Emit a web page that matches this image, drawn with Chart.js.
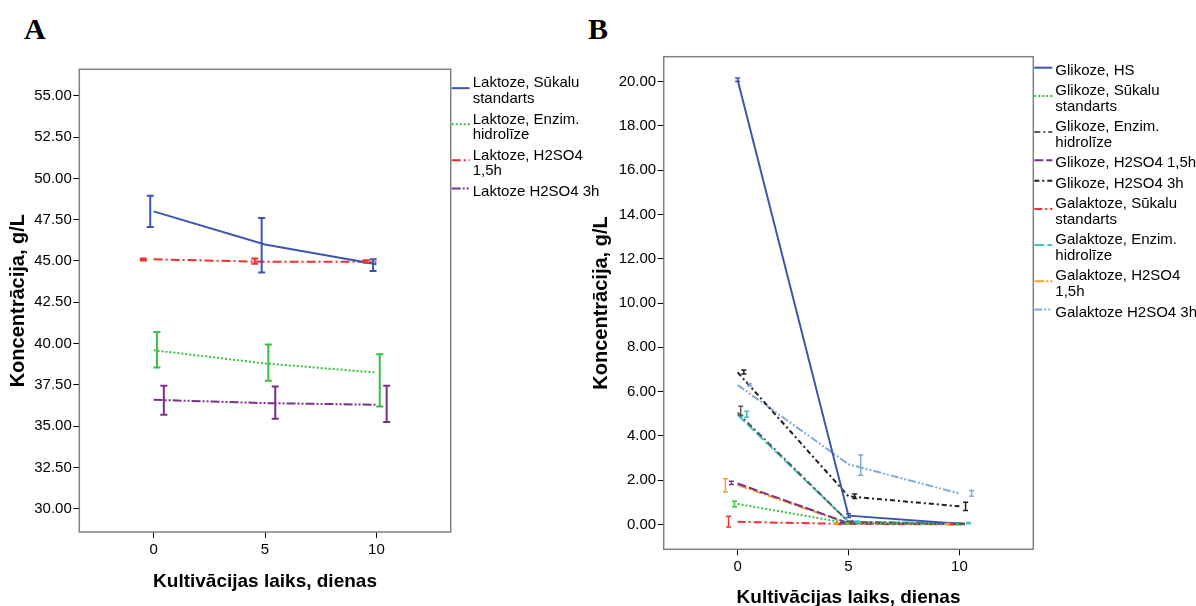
<!DOCTYPE html>
<html>
<head>
<meta charset="utf-8">
<script src="https://cdn.jsdelivr.net/npm/chart.js@4.4.1/dist/chart.umd.min.js"></script>
<style>
  html, body { margin: 0; padding: 0; background: #fff; }
  body { width: 1196px; height: 606px; position: relative; overflow: hidden; }
  canvas { position: absolute; top: 0; }
  #chartA { left: 0; }
  #chartB { left: 590px; }
  .panel-letter {
    position: absolute; top: 14px;
    font-family: "Liberation Serif", "Times New Roman", serif;
    font-weight: bold; font-size: 30px; line-height: 30px; color: #000;
  }
</style>
</head>
<body>
<div class="panel-letter" style="left:24px">A</div>
<div class="panel-letter" style="left:588px">B</div>
<canvas id="chartA" width="610" height="606"></canvas>
<canvas id="chartB" width="606" height="606"></canvas>
<script>
const days = [0, 5, 10];

// A: lactose, g/L (mean, lower and upper end of the error bar)
const lactoseNames = ['Laktoze, Sūkalu standarts', 'Laktoze, Enzim. hidrolīze', 'Laktoze, H2SO4 1,5h', 'Laktoze H2SO4 3h'];
const lactoseMeans = [
    [48.0, 46.0, 44.8],
    [39.6, 38.8, 38.25],
    [45.1, 44.95, 44.95],
    [36.6, 36.4, 36.3]
];
const lactoseLow = [
    [47.05, 44.3, 44.4],
    [38.55, 37.75, 36.2],
    [45.03, 44.83, 44.9],
    [35.7, 35.45, 35.25]
];
const lactoseHigh = [
    [48.95, 47.6, 45.1],
    [40.7, 39.95, 39.35],
    [45.15, 45.15, 45.05],
    [37.45, 37.4, 37.45]
];
const lactoseTicks = [30, 32.5, 35, 37.5, 40, 42.5, 45, 47.5, 50, 52.5, 55];

// B: glucose and galactose, g/L
const sugarNames = [
    'Glikoze, HS', 'Glikoze, Sūkalu standarts', 'Glikoze, Enzim. hidrolīze',
    'Glikoze, H2SO4 1,5h', 'Glikoze, H2SO4 3h', 'Galaktoze, Sūkalu standarts',
    'Galaktoze, Enzim. hidrolīze', 'Galaktoze, H2SO4 1,5h', 'Galaktoze H2SO4 3h'
];
const sugarMeans = [
    [20.08, 0.40, 0.03],
    [0.93, 0.05, 0.03],
    [5.05, 0.12, 0.03],
    [1.85, 0.06, 0.02],
    [6.87, 1.27, 0.82],
    [0.12, 0.02, 0.01],
    [4.95, 0.12, 0.06],
    [1.78, 0.05, 0.02],
    [6.30, 2.72, 1.40]
];
const sugarLow = [
    [20.0, 0.32, 0.0],
    [0.80, 0.02, 0.0],
    [4.93, 0.08, 0.0],
    [1.80, 0.03, 0.0],
    [6.80, 1.17, 0.63],
    [-0.11, 0.0, 0.0],
    [4.84, 0.08, 0.03],
    [1.47, 0.02, 0.0],
    [6.25, 2.22, 1.27]
];
const sugarHigh = [
    [20.16, 0.48, 0.06],
    [1.05, 0.08, 0.05],
    [5.34, 0.16, 0.06],
    [1.95, 0.09, 0.04],
    [6.98, 1.38, 1.00],
    [0.37, 0.05, 0.03],
    [5.11, 0.16, 0.09],
    [2.07, 0.08, 0.04],
    [6.35, 3.14, 1.53]
];
const sugarTicks = [0, 2, 4, 6, 8, 10, 12, 14, 16, 18, 20];

// line look and sideways shift of each error bar
const lactoseStyle = [
    { color: '#3d55b0', dash: [], dodge: -0.15 },
    { color: '#37c03d', dash: [2, 2], dodge: 0.15 },
    { color: '#f0302e', dash: [9, 3, 2, 3], dodge: -0.46 },
    { color: '#7b2e8c', dash: [9, 2, 2, 2, 2, 2], dodge: 0.46 }
];
const sugarStyle = [
    { color: '#3d55b0', dash: [], dodge: 0 },
    { color: '#37c03d', dash: [2, 2], dodge: -0.14 },
    { color: '#5a5a5a', dash: [6, 3, 2, 3], dodge: 0.14 },
    { color: '#7b2e8c', dash: [9, 3], dodge: -0.28 },
    { color: '#1e1e1e', dash: [5, 3, 2, 3], dodge: 0.28 },
    { color: '#f0302e', dash: [8, 3, 2, 3], dodge: -0.41 },
    { color: '#3fc4c4', dash: [10, 3], dodge: 0.41 },
    { color: '#f5a030', dash: [10, 2, 2, 2], dodge: -0.55 },
    { color: '#80a9dc', dash: [8, 2, 2, 2, 2, 2], dodge: 0.55 }
];

const FONT = '"Liberation Sans", Arial, sans-serif';
Chart.defaults.font.family = FONT;
Chart.defaults.color = '#000';

// frame, error bars and the side legend
const panelExtras = {
    id: 'panelExtras',
    afterDatasetsDraw(chart, args, opts) {
        const { ctx, scales: { x, y } } = chart;
        opts.low.forEach((lows, i) => {
            const st = opts.styles[i];
            ctx.save();
            ctx.strokeStyle = st.color;
            ctx.lineWidth = opts.barWidth;
            lows.forEach((lo, j) => {
                const px = x.getPixelForValue(days[j] + st.dodge);
                const y1 = y.getPixelForValue(lo);
                const y2 = y.getPixelForValue(opts.high[i][j]);
                ctx.beginPath();
                ctx.moveTo(px, y1); ctx.lineTo(px, y2);
                ctx.moveTo(px - opts.cap, y1); ctx.lineTo(px + opts.cap, y1);
                ctx.moveTo(px - opts.cap, y2); ctx.lineTo(px + opts.cap, y2);
                ctx.stroke();
            });
            ctx.restore();
        });
    },
    afterDraw(chart, args, opts) {
        const { ctx, chartArea: a } = chart;
        ctx.save();
        ctx.strokeStyle = '#808080';
        ctx.lineWidth = 1.5;
        ctx.strokeRect(a.left, a.top, a.right - a.left, a.bottom - a.top);

        ctx.font = '15px ' + FONT;
        ctx.textBaseline = 'middle';
        ctx.fillStyle = '#000';
        let cy = opts.legendTop;
        opts.names.forEach((name, i) => {
            const lines = [];
            name.split(' ').forEach((w) => {
                const last = lines[lines.length - 1];
                if (last && ctx.measureText(last + ' ' + w).width <= opts.wrapWidth) {
                    lines[lines.length - 1] = last + ' ' + w;
                } else {
                    lines.push(w);
                }
            });
            const st = opts.styles[i];
            const sy = cy + (lines.length - 1) * opts.lineHeight / 2 - 3;
            ctx.strokeStyle = st.color;
            ctx.lineWidth = 2;
            ctx.setLineDash(st.dash);
            ctx.beginPath();
            ctx.moveTo(a.right + 1, sy);
            ctx.lineTo(a.right + 19, sy);
            ctx.stroke();
            ctx.setLineDash([]);
            lines.forEach((t, k) => ctx.fillText(t, a.right + 22, cy + k * opts.lineHeight));
            cy += (lines.length - 1) * opts.lineHeight + opts.entryGap;
        });
        ctx.restore();
    }
};

const makeDatasets = (means, styles, width) => means.map((m, i) => ({
    data: m.map((v, j) => ({ x: days[j], y: v })),
    borderColor: styles[i].color,
    borderDash: styles[i].dash,
    borderWidth: width,
    pointRadius: 0,
    fill: false,
    tension: 0
}));

const makeChart = (el, cfg) => new Chart(document.getElementById(el), {
    type: 'line',
    data: { datasets: makeDatasets(cfg.means, cfg.styles, cfg.lineWidth) },
    options: {
        responsive: false,
        animation: false,
        events: [],
        layout: { padding: cfg.padding },
        plugins: {
            legend: { display: false },
            tooltip: { enabled: false },
            panelExtras: {
                low: cfg.low, high: cfg.high, styles: cfg.styles, names: cfg.names,
                barWidth: cfg.barWidth, cap: cfg.cap,
                legendTop: cfg.legendTop, lineHeight: 15.7, entryGap: 20.4, wrapWidth: cfg.wrapWidth
            }
        },
        scales: {
            x: {
                type: 'linear',
                min: -10 / 3,
                max: 40 / 3,
                afterBuildTicks: (s) => { s.ticks = days.map((v) => ({ value: v })); },
                afterFit: (s) => { s.height = cfg.xHeight; },
                grid: { drawOnChartArea: false, tickLength: 6, tickColor: '#000' },
                border: { display: false },
                ticks: { font: { size: 15 }, padding: 3, maxRotation: 0 },
                title: {
                    display: true, text: 'Kultivācijas laiks, dienas',
                    font: { size: 19, weight: 'bold' }, padding: { top: 0, bottom: cfg.xTitlePad }
                }
            },
            y: {
                type: 'linear',
                min: cfg.yMin,
                max: cfg.yMax,
                afterBuildTicks: (s) => { s.ticks = cfg.ticks.map((v) => ({ value: v })); },
                afterFit: (s) => { s.width = cfg.yWidth; },
                grid: { drawOnChartArea: false, tickLength: 6, tickColor: '#000' },
                border: { display: false },
                ticks: { font: { size: 15 }, padding: 1.5, callback: (v) => Number(v).toFixed(2) },
                title: {
                    display: true, text: 'Koncentrācija, g/L',
                    font: { size: 20, weight: 'bold' }, padding: { top: cfg.yTitlePad, bottom: 0 }
                }
            }
        }
    },
    plugins: [panelExtras]
});

makeChart('chartA', {
    means: lactoseMeans, low: lactoseLow, high: lactoseHigh, styles: lactoseStyle, names: lactoseNames,
    ticks: lactoseTicks, yMin: 28.6, yMax: 56.6,
    padding: { top: 69.3, right: 159.3, bottom: 0, left: 0 },
    yWidth: 79.3, xHeight: 74, xTitlePad: 12.6, yTitlePad: 6,
    lineWidth: 2, barWidth: 2, cap: 3.5, legendTop: 83.3, wrapWidth: 130
});

makeChart('chartB', {
    means: sugarMeans, low: sugarLow, high: sugarHigh, styles: sugarStyle, names: sugarNames,
    ticks: sugarTicks, yMin: -1.12, yMax: 21.12,
    padding: { top: 56.7, right: 162.7, bottom: 0, left: 0 },
    yWidth: 73.7, xHeight: 56.7, xTitlePad: -3.4, yTitlePad: -0.5,
    lineWidth: 2, barWidth: 1.5, cap: 2.5, legendTop: 70.7, wrapWidth: 150
});
</script>
</body>
</html>
